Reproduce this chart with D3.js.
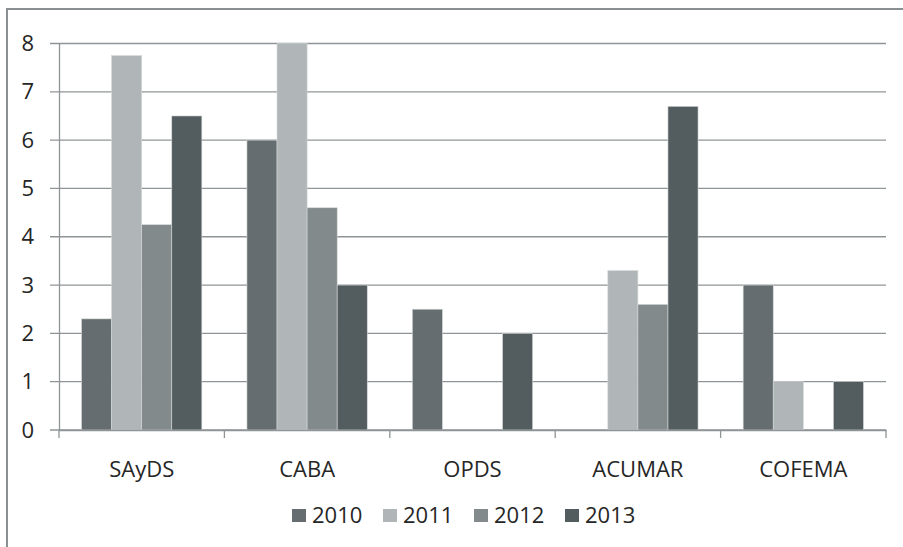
<!DOCTYPE html>
<html>
<head>
<meta charset="utf-8">
<script src="https://cdn.jsdelivr.net/npm/d3@7"></script>
<style>
  html, body { margin: 0; padding: 0; background: #fff; }
  svg text { font-family: "Open Sans", sans-serif; fill: #262626; }
</style>
</head>
<body>
<div id="chart"></div>
<script>
// categories and series
const categories = ["SAyDS", "CABA", "OPDS", "ACUMAR", "COFEMA"];
const years = ["2010", "2011", "2012", "2013"];
const v2010 = [2.3, 6, 2.5, 0, 3];
const v2011 = [7.75, 8, 0, 3.3, 1];
const v2012 = [4.25, 4.6, 0, 2.6, 0];
const v2013 = [6.5, 3, 2, 6.7, 1];
const yTicks = [0, 1, 2, 3, 4, 5, 6, 7, 8];

const series = [v2010, v2011, v2012, v2013];
const colors = ["#666d70", "#b0b5b7", "#838a8c", "#535d5f"];

const svg_w = 903, svg_h = 547;
const plotL = 59, plotR = 886, plotT = 43.5, plotB = 430;

const svg = d3.select("#chart").append("svg")
  .attr("width", svg_w)
  .attr("height", svg_h);

// outer frame (only top and left edges show)
svg.append("rect")
  .attr("x", 7).attr("y", 9)
  .attr("width", 1200).attr("height", 1200)
  .attr("fill", "none")
  .attr("stroke", "#899091")
  .attr("stroke-width", 2);

const x0 = d3.scaleBand().domain(categories).range([plotL, plotR]).padding(0);
const x1 = d3.scaleBand().domain(years).range([0, x0.bandwidth()])
  .paddingInner(0).paddingOuter(0.75);
const y = d3.scaleLinear().domain([0, 8]).range([plotB, plotT]);

// gridlines
svg.append("g")
  .selectAll("line")
  .data(yTicks)
  .join("line")
  .attr("x1", plotL - 9).attr("x2", plotR)
  .attr("y1", d => y(d)).attr("y2", d => y(d))
  .attr("stroke", "#8f9496")
  .attr("stroke-width", 1.3);

// y axis
const yAxis = svg.append("g")
  .attr("transform", "translate(" + plotL + ",0)")
  .call(d3.axisLeft(y).tickValues(yTicks).tickSize(0).tickPadding(25).tickFormat(d3.format("d")));
yAxis.select(".domain").attr("stroke", "#8f9496").attr("stroke-width", 1.3);
yAxis.selectAll("text").attr("font-size", 22).attr("font-family", "Open Sans").attr("fill", "#262626");

// bars
const rows = categories.map((c, i) => ({ cat: c, vals: years.map((yr, j) => ({ yr: yr, v: series[j][i], k: j })) }));
svg.append("g")
  .selectAll("g")
  .data(rows)
  .join("g")
  .attr("transform", d => "translate(" + x0(d.cat) + ",0)")
  .selectAll("rect")
  .data(d => d.vals.filter(e => e.v > 0))
  .join("rect")
  .attr("x", d => x1(d.yr))
  .attr("width", x1.bandwidth())
  .attr("y", d => y(d.v))
  .attr("height", d => y(0) - y(d.v))
  .attr("fill", d => colors[d.k])
  .attr("stroke", "#d4d7d8")
  .attr("stroke-width", 0.6);

// x axis
const xAxis = svg.append("g")
  .attr("transform", "translate(0," + plotB + ")")
  .call(d3.axisBottom(x0).tickSize(0).tickPadding(31));
xAxis.select(".domain").attr("stroke", "#8f9496").attr("stroke-width", 1.3);
xAxis.selectAll("text").attr("font-size", 22).attr("font-family", "Open Sans").attr("fill", "#262626");

// category separators
const sep = categories.map(c => x0(c)).concat([plotR]);
svg.append("g")
  .selectAll("line")
  .data(sep)
  .join("line")
  .attr("x1", d => d).attr("x2", d => d)
  .attr("y1", plotB).attr("y2", plotB + 8)
  .attr("stroke", "#8f9496")
  .attr("stroke-width", 1.3);

// legend
const legend = svg.append("g").attr("transform", "translate(292,509)");
const item = legend.selectAll("g")
  .data(years)
  .join("g")
  .attr("transform", (d, i) => "translate(" + (i * 91) + ",0)");
item.append("rect")
  .attr("width", 14).attr("height", 13)
  .attr("fill", (d, i) => colors[i]);
item.append("text")
  .attr("x", 20).attr("y", 14)
  .attr("font-size", 22)
  .text(d => d);
</script>
</body>
</html>
